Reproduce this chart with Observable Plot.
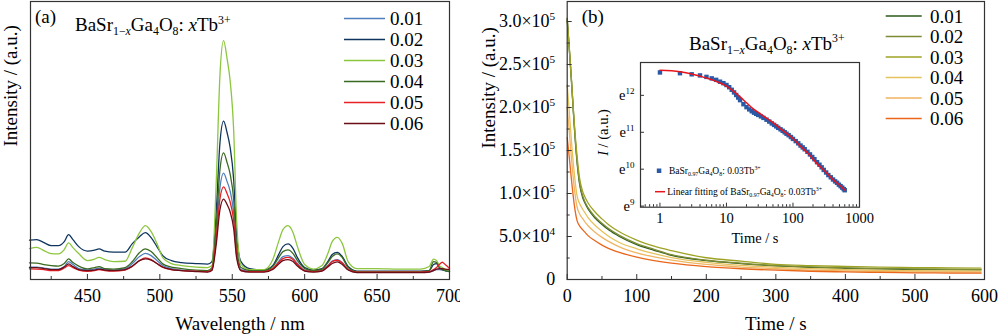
<!DOCTYPE html>
<html><head><meta charset="utf-8">
<script src="https://cdn.jsdelivr.net/npm/d3@7"></script>
<script src="https://cdn.jsdelivr.net/npm/@observablehq/plot@0.6"></script>
<style>
body{margin:0;background:#fff;}
#wrap{position:relative;width:1000px;height:335px;overflow:hidden;background:#fff;}
#wrap svg{position:absolute;font-family:"Liberation Serif","Times New Roman",serif !important;}
#wrap svg text{font-family:"Liberation Serif","Times New Roman",serif !important;}
</style></head><body><div id="wrap"></div>
<script>
// ---------- Panel (a): emission spectra ----------
const concA = ["0.01", "0.02", "0.03", "0.04", "0.05", "0.06"];
const colorsA = ["#4f7fbf", "#0f355f", "#8cc63f", "#3b6a22", "#ea2027", "#6b0d17"];
const wavelength = [410,415,420,425,430, 434,437,440,444,450, 455,458,462,468,476, 481,486,490,494,498,
  502,508,515,525,533, 536,539,541.5,544,546.5, 548.5,551,553,556,562, 572,578,582,585,588.5,
  592,595,600,606,612, 616,619,622.5,626,630, 636,650,665,680,686, 689,691,693,695,697, 700];
const spec001 = [12.3,12.5,11.5,10.5,10.5, 13,18,15,11,9.7, 10.5,11.5,10,9.5,11, 16,23,26.3,24,19,
  14,11,9.5,8.5,8, 10,47,92,106.7,98, 89,67,28,10,8.5, 8.5,11,18,23,24,
  21,16,9.5,8.5,9.5, 14,18.5,20,17,10, 7.5,7.5,7.5,7.5,7.5, 9,10,10,9.5,9, 8.5];
const spec002 = [39.5,40,37,34,34, 38,45,40,33,28.5, 29.5,30.7,28.5,27.5,27.5, 36,43,47,42,33,
  24,19,17,16,15.5, 18,70,137,159,147, 133,100,45,18,11, 9.5,14,25,33,35.7,
  31,22,12,9.5,11, 18,25,27.3,23,13, 8.5,8.5,8.5,8.5,9, 15,16,12,10,9, 8];
const spec003 = [31,32.3,29,26,25.7, 30,36.7,32,26,19, 20.5,22.3,20,18,18.3, 32,47,54,48,36,
  22,16,14,12.5,12, 14,100,205,239.7,221, 200,149,60,15,10, 10,20,38,50,54,
  47,33,15,10.5,14, 26,38,42.3,36,18, 11,11,10.5,10.5,13, 20.5,19,14,12,10, 8];
const spec004 = [16.7,16.5,15,14,13.5, 16,20.7,17,13.5,10.7, 12,13,11,10.5,12, 18,27,30.7,28,22,
  15.7,12.5,11,9.5,9, 12,55,110,127,117, 106,80,33,12,9, 9,13,22,28,29.7,
  26,19,11,9,10.5, 17,23,25.7,22,12, 8,8,8,8,9, 18,17,12,10,9, 8];
const spec005 = [10.7,10.5,10,9,9, 11.5,14,12,9.5,8.3, 9,10,9,8.5,9.5, 13,19,21.7,20,16,
  12.3,10,9,8.3,8, 10,42,81,93,86, 78,59,25,9,8, 8,11,17,21,22.3,
  20,15,9,8,9, 13.5,18,19.3,16.5,10, 7.5,7.5,7.5,7.5,8, 10,12,15,17.3,15, 11];
const spec006 = [12,12,11,10,10, 12.5,15.7,13,10,9, 9.5,10.5,9.5,9,10, 13.5,19,20.7,19.5,16,
  12.5,10,9,8,7.5, 9,36,70,80.7,75, 68,51,22,9,7.5, 7.5,10,15.5,19,20,
  18,13.5,8.5,7.5,8.5, 12.5,16,17.7,15,9.5, 7,7,7,7,7.5, 9,10.5,11,11,10.5, 10];
const wlMajor = [450, 500, 550, 600, 650, 700];
const wlMinor = [425, 475, 525, 575, 625, 675];

// ---------- Panel (b): decay curves ----------
const concB = ["0.01", "0.02", "0.03", "0.04", "0.05", "0.06"];
const colorsB = ["#2d5a1b", "#7d8c35", "#9ea325", "#e6c25c", "#f0b562", "#e9661b"];
const decayTime = [0,3,6,10,14,18,22,26,30,40,50,60,75,100,125,150,200,250,300,350,400,450,500,550,595];
const decay001 = [303000,268000,232000,180000,138000,110000,96000,88000,82000,71500,64000,57500,50000,40500,34000,28000,22000,18500,15800,14200,13100,12300,11800,11500,11300];
const decay002 = [304000,270000,234000,182000,140000,112000,98000,89500,83500,73000,65500,59000,51300,41700,35000,28800,22400,18900,16200,14600,13500,12700,12200,11900,11600];
const decay003 = [300000,268000,233000,184000,145000,117000,103000,95000,89000,78500,70500,63500,55500,45800,38800,33500,25300,21300,17600,16200,15200,14400,13900,13500,13200];
const decay004 = [226000,195000,162000,125000,98000,88000,82000,77000,72000,63000,56000,50000,43000,35700,30000,25500,20000,16500,14200,12600,11500,10700,10200,9900,9700];
const decay005 = [200000,172000,142000,108000,85000,76000,71000,66500,62500,55000,49000,44000,38000,31000,26200,22500,17500,14500,12500,11000,10000,9400,8900,8700,8500];
const decay006 = [165000,142000,117000,88000,69000,62000,58000,54500,51000,45000,40000,36000,31500,26000,22000,19000,15000,12500,10800,9600,8800,8200,7800,7500,7300];
const tMajor = [0,100,200,300,400,500,600];
const tMinor = [50,150,250,350,450,550];
const iMajor = [0,50000,100000,150000,200000,250000,300000];
const iMinor = [25000,75000,125000,175000,225000,275000];

// ---------- Inset: ln I vs log t ----------
const insetTime = [1,2,3,4,5,6,7,8,9,10,11,12,13,14,15,16,18,20,22,24,26,28,30,33,36,40,44,48,52,56,60,65,70,75,80,86,93,100,
  110,120,130,140,150,165,180,195,210,230,250,270,290,315,340,370,400,430,460,490,520,550,580,600];
const insetLnI = [12.62,12.60,12.57,12.54,12.50,12.46,12.42,12.37,12.33,12.28,12.22,12.15,12.08,12.01,11.94,11.87,11.76,11.68,11.62,11.57,11.53,11.50,11.47,11.43,11.39,11.34,11.29,11.24,11.20,11.16,11.12,11.08,11.04,11.00,10.96,10.92,10.87,10.82,
  10.76,10.70,10.64,10.59,10.54,10.47,10.40,10.33,10.27,10.19,10.12,10.05,9.98,9.91,9.84,9.78,9.72,9.67,9.63,9.58,9.54,9.50,9.46,9.43];
const fitTime = [1,2,3,4,5,7,10,13,16,20,25,30,40,50,70,100,130,170,230,300,400,500,600];
const fitLnI = [12.68,12.64,12.58,12.52,12.47,12.38,12.25,12.10,11.96,11.80,11.64,11.54,11.38,11.26,11.05,10.83,10.62,10.42,10.15,9.95,9.72,9.57,9.44];
const insetXMajor = [1,10,100,1000];
const insetXMinor = [0.6,0.7,0.8,0.9,2,3,4,5,6,7,8,9,20,30,40,50,60,70,80,90,200,300,400,500,600,700,800,900];
const insetYMajor = [9,10,11,12];

const FONT = '"Liberation Serif", "Times New Roman", serif';
const TITLE = [["BaSr",""],["1\u2212","sub"],["x","subit"],["Ga",""],["4","sub"],["O",""],["8","sub"],[": ",""],["x","it"],["Tb",""],["3+","sup"]];
const SAMPLE = [["BaSr",""],["0.97","sub"],["Ga",""],["4","sub"],["O",""],["8","sub"],[": 0.03Tb",""],["3+","sup"]];

function rich(sel, parts, fs) {
  let shift = 0;
  for (const [t, m] of parts) {
    const isSub = m.startsWith("sub"), isSup = m.startsWith("sup");
    const target = isSub ? 0.22 * fs : isSup ? -0.38 * fs : 0;
    const ts = sel.append("tspan").text(t);
    if (target !== shift) { ts.attr("dy", (target - shift).toFixed(2)); shift = target; }
    if (isSub || isSup) ts.attr("font-size", (fs * 0.62).toFixed(1));
    if (m.endsWith("it")) ts.attr("font-style", "italic");
  }
}
function addText(svg, x, y, parts, fs, opts = {}) {
  const t = svg.append("text").attr("x", x).attr("y", y)
    .attr("font-family", FONT).attr("font-size", fs).attr("fill", "#000")
    .attr("text-anchor", opts.anchor || "start");
  if (opts.rotate) t.attr("transform", `rotate(${opts.rotate},${x},${y})`);
  rich(t, parts, fs);
  return t;
}
function fixCarets(svg, fs) {
  svg.selectAll("text").each(function () {
    const s = this.textContent;
    if (s.includes("^") && this.childElementCount === 0) {
      const [a, b] = s.split("^");
      const el = d3.select(this); el.text("");
      rich(el, [[a, ""], [b, "sup"]], fs);
    }
  });
}

const wrap = document.getElementById("wrap");
const H = 335, mT = 1, mB = 56, fh = H - mT - mB;

// ---- Panel (a)
const spectra = [spec001, spec002, spec003, spec004, spec005, spec006];
const rowsA = concA.flatMap((c, i) => wavelength.map((w, j) => ({w, v: spectra[i][j], c})));
const plotA = Plot.plot({
  width: 460, height: H, marginLeft: 30, marginRight: 11, marginTop: mT, marginBottom: mB,
  style: {fontFamily: FONT, fontSize: "18px", color: "#000", background: "transparent", overflow: "hidden"},
  x: {domain: [410.7, 700]},
  y: {domain: [0, 279], axis: null},
  color: {domain: concA, range: colorsA},
  marks: [
    Plot.line(rowsA, {x: "w", y: "v", z: "c", stroke: "c", strokeWidth: 1.3, curve: "monotone-x"}),
    Plot.tickX(wlMajor, {x: d => d, insetTop: fh - 5, stroke: "#333"}),
    Plot.tickX(wlMinor, {x: d => d, insetTop: fh - 3, stroke: "#333"}),
    Plot.axisX(wlMajor, {tickSize: 0, tickPadding: 10, fontSize: 18, label: null}),
    Plot.text(["Wavelength / nm"], {text: d => d, frameAnchor: "bottom", dy: 44, lineAnchor: "middle", fontSize: 19}),
    Plot.text(["Intensity / (a.u.)"], {text: d => d, frameAnchor: "left", dx: -20, dy: 6, rotate: -90, lineAnchor: "middle", fontSize: 19}),
    Plot.frame({stroke: "#333", strokeWidth: 1.2})
  ]
});
plotA.style.left = "0px"; plotA.style.top = "0px";
wrap.appendChild(plotA);
{
  const s = d3.select(plotA);
  addText(s, 35, 23, [["(a)", ""]], 19);
  addText(s, 75, 31, TITLE, 19);
  concA.forEach((c, i) => {
    const y = 18.5 + 21 * i;
    s.append("line").attr("x1", 344).attr("x2", 385).attr("y1", y).attr("y2", y)
      .attr("stroke", colorsA[i]).attr("stroke-width", 1.4);
    addText(s, 390, y + 6.5, [[c, ""]], 19);
  });
}

// ---- Panel (b)
const decays = [decay001, decay002, decay003, decay004, decay005, decay006];
const rowsB = concB.flatMap((c, i) => decayTime.map((t, j) => ({t, v: decays[i][j], c})));
const mLB = 66.7, mRB = 16, fwB = 500 - mLB - mRB;
const fmtB = v => v === 0 ? "0" : v >= 100000 ? (v / 100000).toFixed(1) + "\u00d710^5" : (v / 10000).toFixed(1) + "\u00d710^4";
const plotB = Plot.plot({
  width: 500, height: H, marginLeft: mLB, marginRight: mRB, marginTop: mT, marginBottom: mB,
  style: {fontFamily: FONT, fontSize: "18px", color: "#000", background: "transparent", overflow: "visible"},
  x: {domain: [0, 600]},
  y: {domain: [0, 323300]},
  color: {domain: concB, range: colorsB},
  marks: [
    Plot.line(rowsB, {x: "t", y: "v", z: "c", stroke: "c", strokeWidth: 1.3, curve: "monotone-x"}),
    Plot.tickX(tMajor, {x: d => d, insetTop: fh - 5, stroke: "#333"}),
    Plot.tickX(tMinor, {x: d => d, insetTop: fh - 3, stroke: "#333"}),
    Plot.tickY(iMajor, {y: d => d, insetRight: fwB - 5, stroke: "#333"}),
    Plot.tickY(iMinor, {y: d => d, insetRight: fwB - 3, stroke: "#333"}),
    Plot.axisX(tMajor, {tickSize: 0, tickPadding: 10, fontSize: 18, label: null}),
    Plot.axisY(iMajor, {tickSize: 0, tickPadding: 12, fontSize: 18, label: null, tickFormat: fmtB}),
    Plot.text(["Time / s"], {text: d => d, frameAnchor: "bottom", dy: 44, lineAnchor: "middle", fontSize: 19}),
    Plot.text(["Intensity / (a.u.)"], {text: d => d, frameAnchor: "left", dx: -78, dy: 8, rotate: -90, lineAnchor: "middle", fontSize: 19}),
    Plot.frame({stroke: "#333", strokeWidth: 1.2})
  ]
});
plotB.style.left = "500px"; plotB.style.top = "0px";
wrap.appendChild(plotB);
{
  const s = d3.select(plotB);
  fixCarets(s, 18);
  addText(s, 81.7, 23, [["(b)", ""]], 19);
  addText(s, 189, 49.5, TITLE, 19);
  concB.forEach((c, i) => {
    const y = 16 + 20.5 * i;
    s.append("line").attr("x1", 385.7).attr("x2", 421.7).attr("y1", y).attr("y2", y)
      .attr("stroke", colorsB[i]).attr("stroke-width", 1.4);
    addText(s, 430, y + 6.5, [[c, ""]], 19);
  });
}

// ---- Inset
const rowsI = insetTime.map((t, i) => ({t, v: insetLnI[i]}));
const rowsF = fitTime.map((t, i) => ({t, v: fitLnI[i]}));
const wI = 280, hI = 195, mLI = 50, mRI = 11, mTI = 7, mBI = 43.3;
const fwI = wI - mLI - mRI, fhI = hI - mTI - mBI;
const plotI = Plot.plot({
  width: wI, height: hI, marginLeft: mLI, marginRight: mRI, marginTop: mTI, marginBottom: mBI,
  style: {fontFamily: FONT, fontSize: "14px", color: "#000", background: "transparent", overflow: "visible"},
  x: {type: "log", domain: [0.51, 1000]},
  y: {domain: [8.97, 12.89]},
  marks: [
    Plot.frame({fill: "white", stroke: "none"}),
    Plot.dot(rowsI, {x: "t", y: "v", symbol: "square", r: 2.5, fill: "#2a5aa6", stroke: "none"}),
    Plot.line(rowsF, {x: "t", y: "v", stroke: "#e8141c", strokeWidth: 1.5, curve: "monotone-x"}),
    Plot.tickX(insetXMajor.filter(d => d < 1000), {x: d => d, insetTop: fhI - 4, stroke: "#333"}),
    Plot.tickX(insetXMinor, {x: d => d, insetTop: fhI - 2.5, stroke: "#333"}),
    Plot.tickY(insetYMajor, {y: d => d, insetRight: fwI - 4, stroke: "#333"}),
    Plot.axisX(insetXMajor, {tickSize: 0, tickPadding: 6, fontSize: 14.5, label: null, tickFormat: d => String(d)}),
    Plot.axisY(insetYMajor, {tickSize: 0, tickPadding: 6, fontSize: 14.5, label: null, tickFormat: d => "e^" + d}),
    Plot.text(["Time / s"], {text: d => d, frameAnchor: "bottom", dx: 5, dy: 31, lineAnchor: "middle", fontSize: 14.5}),
    Plot.frame({stroke: "#333", strokeWidth: 1.2})
  ]
});
plotI.style.left = "590px"; plotI.style.top = "55px";
wrap.appendChild(plotI);
{
  const s = d3.select(plotI);
  fixCarets(s, 14.5);
  addText(s, 18, 77.5, [["I", "it"], [" / (a.u.)", ""]], 14.5, {anchor: "middle", rotate: -90});
  s.append("rect").attr("x", 66.8).attr("y", 113.5).attr("width", 4.5).attr("height", 4.5).attr("fill", "#2a5aa6");
  addText(s, 79, 119, SAMPLE, 9.5);
  s.append("line").attr("x1", 65).attr("x2", 75).attr("y1", 136.7).attr("y2", 136.7)
    .attr("stroke", "#e8141c").attr("stroke-width", 1.5);
  addText(s, 77.3, 140, [["Linear fitting of ", ""], ...SAMPLE], 9.5);
}
</script></body></html>
